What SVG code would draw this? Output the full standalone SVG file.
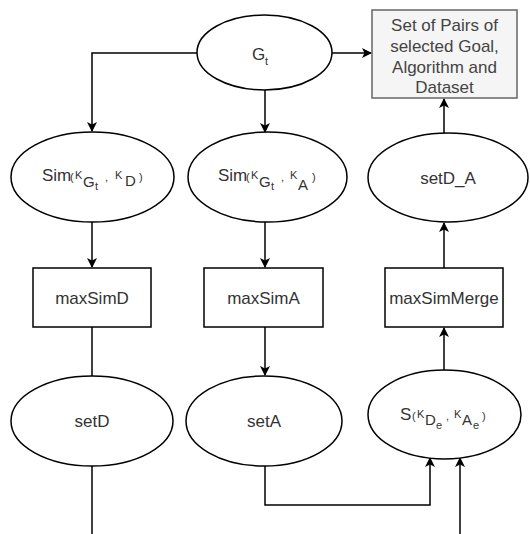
<svg xmlns="http://www.w3.org/2000/svg" width="530" height="534" viewBox="0 0 530 534">
<defs>
<marker id="arr" viewBox="0 0 10 10" refX="9" refY="5" markerWidth="10" markerHeight="10" markerUnits="userSpaceOnUse" orient="auto">
<path d="M0,0 L10,5 L0,10 L2.5,5 z" fill="#000"/>
</marker>
<style>
.n{fill:#fff;stroke:#000;stroke-width:1.5}
.g{fill:#f5f5f5;stroke:#666;stroke-width:1.5}
.t{font-family:"Liberation Sans",Arial,sans-serif;fill:#333;font-size:17px}
.c{fill:none;stroke:#000;stroke-width:1.5}
.s{font-size:11px}
.m{font-size:15px}
</style>
</defs>
<rect width="530" height="534" fill="#fff"/>
<g id="connectors">
<path class="c" d="M197,53 H92 V131" marker-end="url(#arr)"/>
<path class="c" d="M265,90 V132" stroke-width="2" marker-end="url(#arr)"/>
<path class="c" d="M332,53 H371" marker-end="url(#arr)"/>
<path class="c" d="M92,222 V267" marker-end="url(#arr)"/>
<path class="c" d="M265,222 V267" stroke-width="2" marker-end="url(#arr)"/>
<path class="c" d="M92,327 V376"/>
<path class="c" d="M265,327 V375" stroke-width="2" marker-end="url(#arr)"/>
<path class="c" d="M92,466 V534"/>
<path class="c" d="M265,466 V505 H430 V458" marker-end="url(#arr)"/>
<path class="c" d="M460,534 V458" marker-end="url(#arr)"/>
<path class="c" d="M444,370 V328" marker-end="url(#arr)"/>
<path class="c" d="M444,268 V223" marker-end="url(#arr)"/>
<path class="c" d="M444,133 V99" marker-end="url(#arr)"/>
</g>
<g id="Gt">
<ellipse class="n" cx="264.5" cy="52.5" rx="67.5" ry="37.5"/>
<text class="t"><tspan x="252" y="60">G</tspan><tspan class="s" x="265" y="65">t</tspan></text>
</g>
<g id="result">
<rect class="g" x="372" y="10" width="145" height="88"/>
<text class="t" text-anchor="middle" style="fill:#444"><tspan x="444.5" y="31">Set of Pairs of</tspan><tspan x="444.5" y="52">selected Goal,</tspan><tspan x="444.5" y="73">Algorithm and</tspan><tspan x="444.5" y="93">Dataset</tspan></text>
</g>
<g id="simD">
<ellipse class="n" cx="92.5" cy="177" rx="81.5" ry="45"/>
<text class="t"><tspan x="42" y="181">Sim</tspan><tspan class="s" x="70" y="181">(</tspan><tspan class="s" x="75" y="179">K</tspan><tspan class="m" x="83" y="187">G</tspan><tspan class="s" x="95" y="190">t</tspan><tspan class="s" x="105" y="181">,</tspan><tspan class="s" x="115" y="179">K</tspan><tspan class="m" x="125" y="186">D</tspan><tspan class="s" x="139" y="181">)</tspan></text>
</g>
<g id="simA">
<ellipse class="n" cx="267.5" cy="177" rx="79.5" ry="45"/>
<text class="t"><tspan x="218" y="181">Sim</tspan><tspan class="s" x="246" y="181">(</tspan><tspan class="s" x="251" y="179">K</tspan><tspan class="m" x="259" y="187">G</tspan><tspan class="s" x="271" y="190">t</tspan><tspan class="s" x="281" y="181">,</tspan><tspan class="s" x="290" y="179">K</tspan><tspan class="m" x="298" y="190">A</tspan><tspan class="s" x="312" y="181">)</tspan></text>
</g>
<g id="setD_A">
<ellipse class="n" cx="448" cy="177.5" rx="80" ry="44.5"/>
<text class="t" text-anchor="middle" x="448" y="184">setD_A</text>
</g>
<g id="maxSimD">
<rect class="n" x="33" y="268" width="118" height="59"/>
<text class="t" text-anchor="middle" x="92" y="304">maxSimD</text>
</g>
<g id="maxSimA">
<rect class="n" x="204" y="268" width="119" height="59"/>
<text class="t" text-anchor="middle" x="263.5" y="304">maxSimA</text>
</g>
<g id="maxSimMerge">
<rect class="n" x="385" y="268" width="118" height="59"/>
<text class="t" text-anchor="middle" x="444" y="304">maxSimMerge</text>
</g>
<g id="setD">
<ellipse class="n" cx="92" cy="421" rx="81" ry="45"/>
<text class="t" text-anchor="middle" x="92" y="427">setD</text>
</g>
<g id="setA">
<ellipse class="n" cx="264" cy="421" rx="78" ry="45"/>
<text class="t" text-anchor="middle" x="264" y="427">setA</text>
</g>
<g id="S">
<ellipse class="n" cx="444.5" cy="414.5" rx="76.5" ry="44.5"/>
<text class="t"><tspan x="400" y="420">S</tspan><tspan class="s" x="412" y="420">(</tspan><tspan class="s" x="417" y="418">K</tspan><tspan class="m" x="425" y="425">D</tspan><tspan class="s" x="436" y="429">e</tspan><tspan class="s" x="446" y="420">,</tspan><tspan class="s" x="454" y="418">K</tspan><tspan class="m" x="462" y="425">A</tspan><tspan class="s" x="473" y="429">e</tspan><tspan class="s" x="482" y="420">)</tspan></text>
</g>
</svg>
